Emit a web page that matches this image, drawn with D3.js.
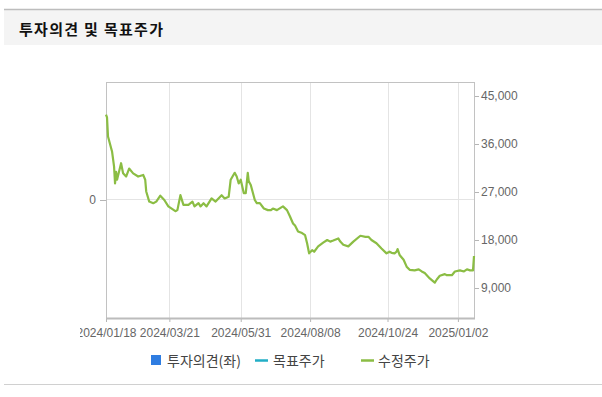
<!DOCTYPE html>
<html>
<head>
<meta charset="utf-8">
<script src="https://cdn.jsdelivr.net/npm/d3@7"></script>
<style>
  body { margin: 0; background: #fff; }
  svg { display: block; font-family: "Liberation Sans", "Noto Sans CJK KR", sans-serif; }
</style>
</head>
<body>
<svg id="chart" width="602" height="397"></svg>
<script>
// adjusted close
const dates = [
  '2024/01/18', '2024/01/19', '2024/01/20', '2024/01/24', '2024/01/26', '2024/01/27', '2024/01/28', '2024/01/29',
  '2024/02/02', '2024/02/04', '2024/02/07', '2024/02/10', '2024/02/14', '2024/02/19', '2024/02/24', '2024/02/26',
  '2024/02/27', '2024/03/01', '2024/03/05', '2024/03/08', '2024/03/12', '2024/03/16', '2024/03/20', '2024/03/27',
  '2024/03/29', '2024/04/01', '2024/04/04', '2024/04/09', '2024/04/13', '2024/04/15', '2024/04/19', '2024/04/21',
  '2024/04/24', '2024/04/27', '2024/05/02', '2024/05/06', '2024/05/12', '2024/05/15', '2024/05/19', '2024/05/21',
  '2024/05/25', '2024/05/27', '2024/05/29', '2024/05/31', '2024/06/03', '2024/06/05', '2024/06/07', '2024/06/08',
  '2024/06/10', '2024/06/14', '2024/06/16', '2024/06/19', '2024/06/23', '2024/06/27', '2024/06/30', '2024/07/02',
  '2024/07/06', '2024/07/12', '2024/07/16', '2024/07/19', '2024/07/22', '2024/07/24', '2024/07/27', '2024/07/31',
  '2024/08/03', '2024/08/05', '2024/08/07', '2024/08/10', '2024/08/12', '2024/08/16', '2024/08/21', '2024/08/25',
  '2024/08/28', '2024/08/31', '2024/09/05', '2024/09/07', '2024/09/10', '2024/09/15', '2024/09/20', '2024/09/27',
  '2024/10/02', '2024/10/05', '2024/10/08', '2024/10/13', '2024/10/18', '2024/10/23', '2024/10/26', '2024/10/28',
  '2024/10/31', '2024/11/02', '2024/11/03', '2024/11/05', '2024/11/09', '2024/11/12', '2024/11/15', '2024/11/20',
  '2024/11/24', '2024/11/27', '2024/11/30', '2024/12/05', '2024/12/10', '2024/12/12', '2024/12/15', '2024/12/20',
  '2024/12/22', '2024/12/27', '2024/12/30', '2025/01/04', '2025/01/08', '2025/01/11', '2025/01/14', '2025/01/17',
  '2025/01/18'
];
const prices = [
  41500, 41000, 37400, 34600, 31800, 28600, 30800, 29300,
  32400, 30500, 29900, 31400, 30500, 29900, 30200, 29300,
  27100, 25200, 24900, 25200, 26300, 25500, 24300, 23400,
  23600, 26400, 24600, 24600, 25200, 24300, 24900, 24300,
  24900, 24300, 25800, 25200, 26400, 25800, 26100, 29300,
  30600, 29900, 28600, 29300, 26800, 26800, 30600, 29000,
  28300, 25500, 24900, 24900, 23900, 23600, 23600, 23900,
  23600, 24300, 23600, 22400, 21100, 20700, 19600, 19300,
  18900, 17400, 15500, 16100, 15800, 16800, 17500, 18000,
  17700, 17900, 18300, 17700, 17100, 16800, 17700, 18800,
  18600, 18600, 18000, 17400, 16400, 15500, 15800, 15600,
  15500, 15800, 16300, 15200, 14300, 13000, 12400, 12300,
  12500, 12100, 11800, 10800, 10000, 10600, 11300, 11600,
  11400, 11400, 12100, 12300, 12100, 12500, 12300, 12300,
  15000
];
const priceTicks = [9000, 18000, 27000, 36000, 45000];
const dateTicks = ['2024/01/18', '2024/03/21', '2024/05/31', '2024/08/08', '2024/10/24', '2025/01/02'];
const opinionTicks = [0];
const legendLabels = ['투자의견(좌)', '목표주가', '수정주가'];
const title = '투자의견 및 목표주가';

const parse = d3.timeParse('%Y/%m/%d');
const data = dates.map((d, i) => ({ date: parse(d), price: prices[i] }));

const svg = d3.select('#chart');
const plot = { left: 106, right: 474, top: 82, bottom: 318 };

// header band
svg.append('rect').attr('x', 4).attr('y', 10).attr('width', 598).attr('height', 35).attr('fill', '#f4f4f4');
svg.append('line').attr('x1', 4).attr('x2', 602).attr('y1', 9.5).attr('y2', 9.5)
  .attr('stroke', '#bdbdbd').attr('stroke-width', 1.5);
svg.append('text').attr('x', 19).attr('y', 35)
  .attr('font-size', 15).attr('font-weight', 'bold').attr('fill', '#111')
  .attr('letter-spacing', 1.3)
  .attr('font-family', '"Noto Sans CJK KR", sans-serif')
  .text(title);
svg.append('line').attr('x1', 4).attr('x2', 602).attr('y1', 384.5).attr('y2', 384.5)
  .attr('stroke', '#d0d0d0');

const x = d3.scaleTime()
  .domain([parse('2024/01/18'), parse('2025/01/18')])
  .range([plot.left, plot.right]);
const yR = d3.scaleLinear().domain([3375, 47625]).range([plot.bottom, plot.top]);
const yL = d3.scaleLinear().domain([-1, 1]).range([plot.bottom, plot.top]);

// grid
svg.append('g').selectAll('line').data(dateTicks.slice(1)).join('line')
  .attr('x1', d => Math.round(x(parse(d))) + 0.5).attr('x2', d => Math.round(x(parse(d))) + 0.5)
  .attr('y1', plot.top).attr('y2', plot.bottom)
  .attr('stroke', '#e4e4e4');
svg.append('g').selectAll('line').data(opinionTicks).join('line')
  .attr('x1', plot.left).attr('x2', plot.right)
  .attr('y1', d => Math.round(yL(d)) - 0.5).attr('y2', d => Math.round(yL(d)) - 0.5)
  .attr('stroke', '#e4e4e4');

// axes
const styleAxis = g => {
  g.select('.domain').remove();
  g.selectAll('.tick line').attr('stroke', '#b5b5b5');
  g.selectAll('.tick text').attr('fill', '#666').attr('font-size', 12);
};

svg.append('g').attr('transform', `translate(${plot.right},0)`)
  .call(d3.axisRight(yR).tickValues(priceTicks).tickSize(5).tickPadding(2).tickFormat(d3.format(',')))
  .call(styleAxis);

svg.append('g').attr('transform', `translate(${plot.left},0)`)
  .call(d3.axisLeft(yL).tickValues(opinionTicks).tickSize(6).tickPadding(4).tickFormat(d3.format('d')))
  .call(styleAxis);

svg.append('clipPath').attr('id', 'lclip')
  .append('rect').attr('x', 80).attr('y', 0).attr('width', 522).attr('height', 397);
svg.append('g').attr('clip-path', 'url(#lclip)')
  .append('g').attr('transform', `translate(0,${plot.bottom})`)
  .call(d3.axisBottom(x).tickValues(dateTicks.map(parse)).tickSize(4).tickPadding(6)
    .tickFormat(d3.timeFormat('%Y/%m/%d')))
  .call(styleAxis);

// frame
svg.append('rect')
  .attr('x', plot.left + 0.5).attr('y', plot.top + 0.5)
  .attr('width', plot.right - plot.left).attr('height', plot.bottom - plot.top)
  .attr('fill', 'none').attr('stroke', '#c2c2c2');
svg.append('line').attr('x1', plot.left).attr('x2', plot.right + 1)
  .attr('y1', plot.bottom + 0.5).attr('y2', plot.bottom + 0.5)
  .attr('stroke', '#bcbcbc').attr('stroke-width', 2);

// price line
const line = d3.line().x(d => x(d.date)).y(d => yR(d.price));
svg.append('path').datum(data)
  .attr('d', line)
  .attr('fill', 'none')
  .attr('stroke', '#8bbd44')
  .attr('stroke-width', 2.2)
  .attr('stroke-linejoin', 'round');

// legend
const legend = svg.append('g').attr('font-size', 14).attr('fill', '#444')
  .attr('font-family', '"Noto Sans CJK KR", sans-serif');
legend.append('rect').attr('x', 151).attr('y', 355).attr('width', 10).attr('height', 10).attr('fill', '#2f7de1');
legend.append('text').attr('x', 167).attr('y', 365.5).text(legendLabels[0]);
legend.append('line').attr('x1', 255).attr('x2', 268).attr('y1', 360.5).attr('y2', 360.5)
  .attr('stroke', '#22aec6').attr('stroke-width', 2.5);
legend.append('text').attr('x', 273).attr('y', 365.5).text(legendLabels[1]);
legend.append('line').attr('x1', 361).attr('x2', 374).attr('y1', 360.5).attr('y2', 360.5)
  .attr('stroke', '#8bbd44').attr('stroke-width', 2.5);
legend.append('text').attr('x', 378).attr('y', 365.5).text(legendLabels[2]);
</script>
</body>
</html>
